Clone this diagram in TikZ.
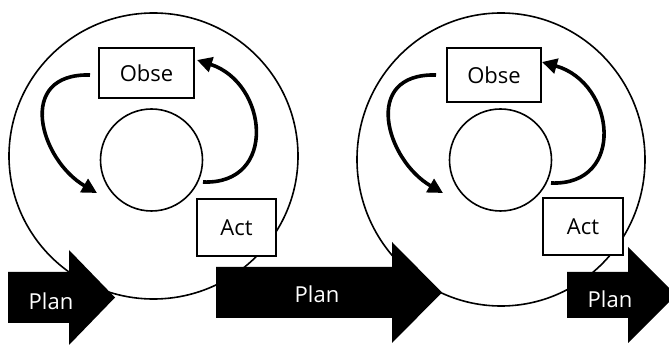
\documentclass[tikz,border=0pt]{standalone}
\usepackage{fontspec}
\setmainfont{Open Sans}
\usetikzlibrary{shapes.geometric,arrows.meta}

\begin{document}
\begin{tikzpicture}[x=1pt,y=1pt,
  ring/.style={draw,ellipse,line width=1.6pt,inner sep=0pt},
  box/.style={draw,fill=white,line width=1.7pt,inner sep=0pt,font=\fontsize{22}{26}\selectfont},
  cyc/.style={line width=3.6pt,-{Triangle[length=15pt,width=15pt]}},
  plan/.style={text=white,font=\fontsize{22}{26}\selectfont}]
\useasboundingbox (0,0) rectangle (669,345);
%\draw[step=50pt,gray,very thin] (0,0) grid (669,345);
\node[ring,minimum width=289pt,minimum height=286pt] (outerA) at (153.5,189) {};
\node[ring,minimum width=288pt,minimum height=293pt] (outerB) at (501,185.5) {};
\node[ring,circle,minimum size=102pt] (innerA) at (151.5,185) {};
\node[ring,circle,minimum size=102pt] (innerB) at (500.5,185) {};
\coordinate (cycA1) at (90,270);
\coordinate (cycA2) at (97,152);
\coordinate (cycA3) at (203,163);
\coordinate (cycA4) at (197,285);
\coordinate (cycB1) at (436,270);
\coordinate (cycB2) at (443,152);
\coordinate (cycB3) at (551,162);
\coordinate (cycB4) at (542,283);
\draw[cyc] (cycA1) .. controls (15,272) and (40,185) .. (cycA2);
\draw[cyc] (cycA3) .. controls (278,160) and (268,262) .. (cycA4);
\draw[cyc] (cycB1) .. controls (361,272) and (386,185) .. (cycB2);
\draw[cyc] (cycB3) .. controls (626,159) and (616,262) .. (cycB4);
\node[box,minimum width=95pt,minimum height=50pt] (obseA) at (146.5,272) {Obse};
\node[box,minimum width=94pt,minimum height=54pt] (obseB) at (494,270) {Obse};
\node[box,minimum width=79pt,minimum height=57pt] (actA) at (236.5,117.5) {Act};
\node[box,minimum width=80pt,minimum height=57pt] (actB) at (583,118.5) {Act};
\fill (8,73) -- (69,73) -- (69,95) -- (115,47.5) -- (69,0) -- (69,22) -- (8,22) -- cycle;
\fill (216,78) -- (392,78) -- (392,103) -- (442,52.5) -- (392,2) -- (392,27) -- (216,27) -- cycle;
\fill (567,73) -- (628,73) -- (628,98) -- (676,50) -- (628,2) -- (628,27) -- (567,27) -- cycle;
\node[plan] (planA) at (51,44) {Plan};
\node[plan] (planB) at (317,51) {Plan};
\node[plan] (planC) at (610,46) {Plan};
\end{tikzpicture}
\end{document}
